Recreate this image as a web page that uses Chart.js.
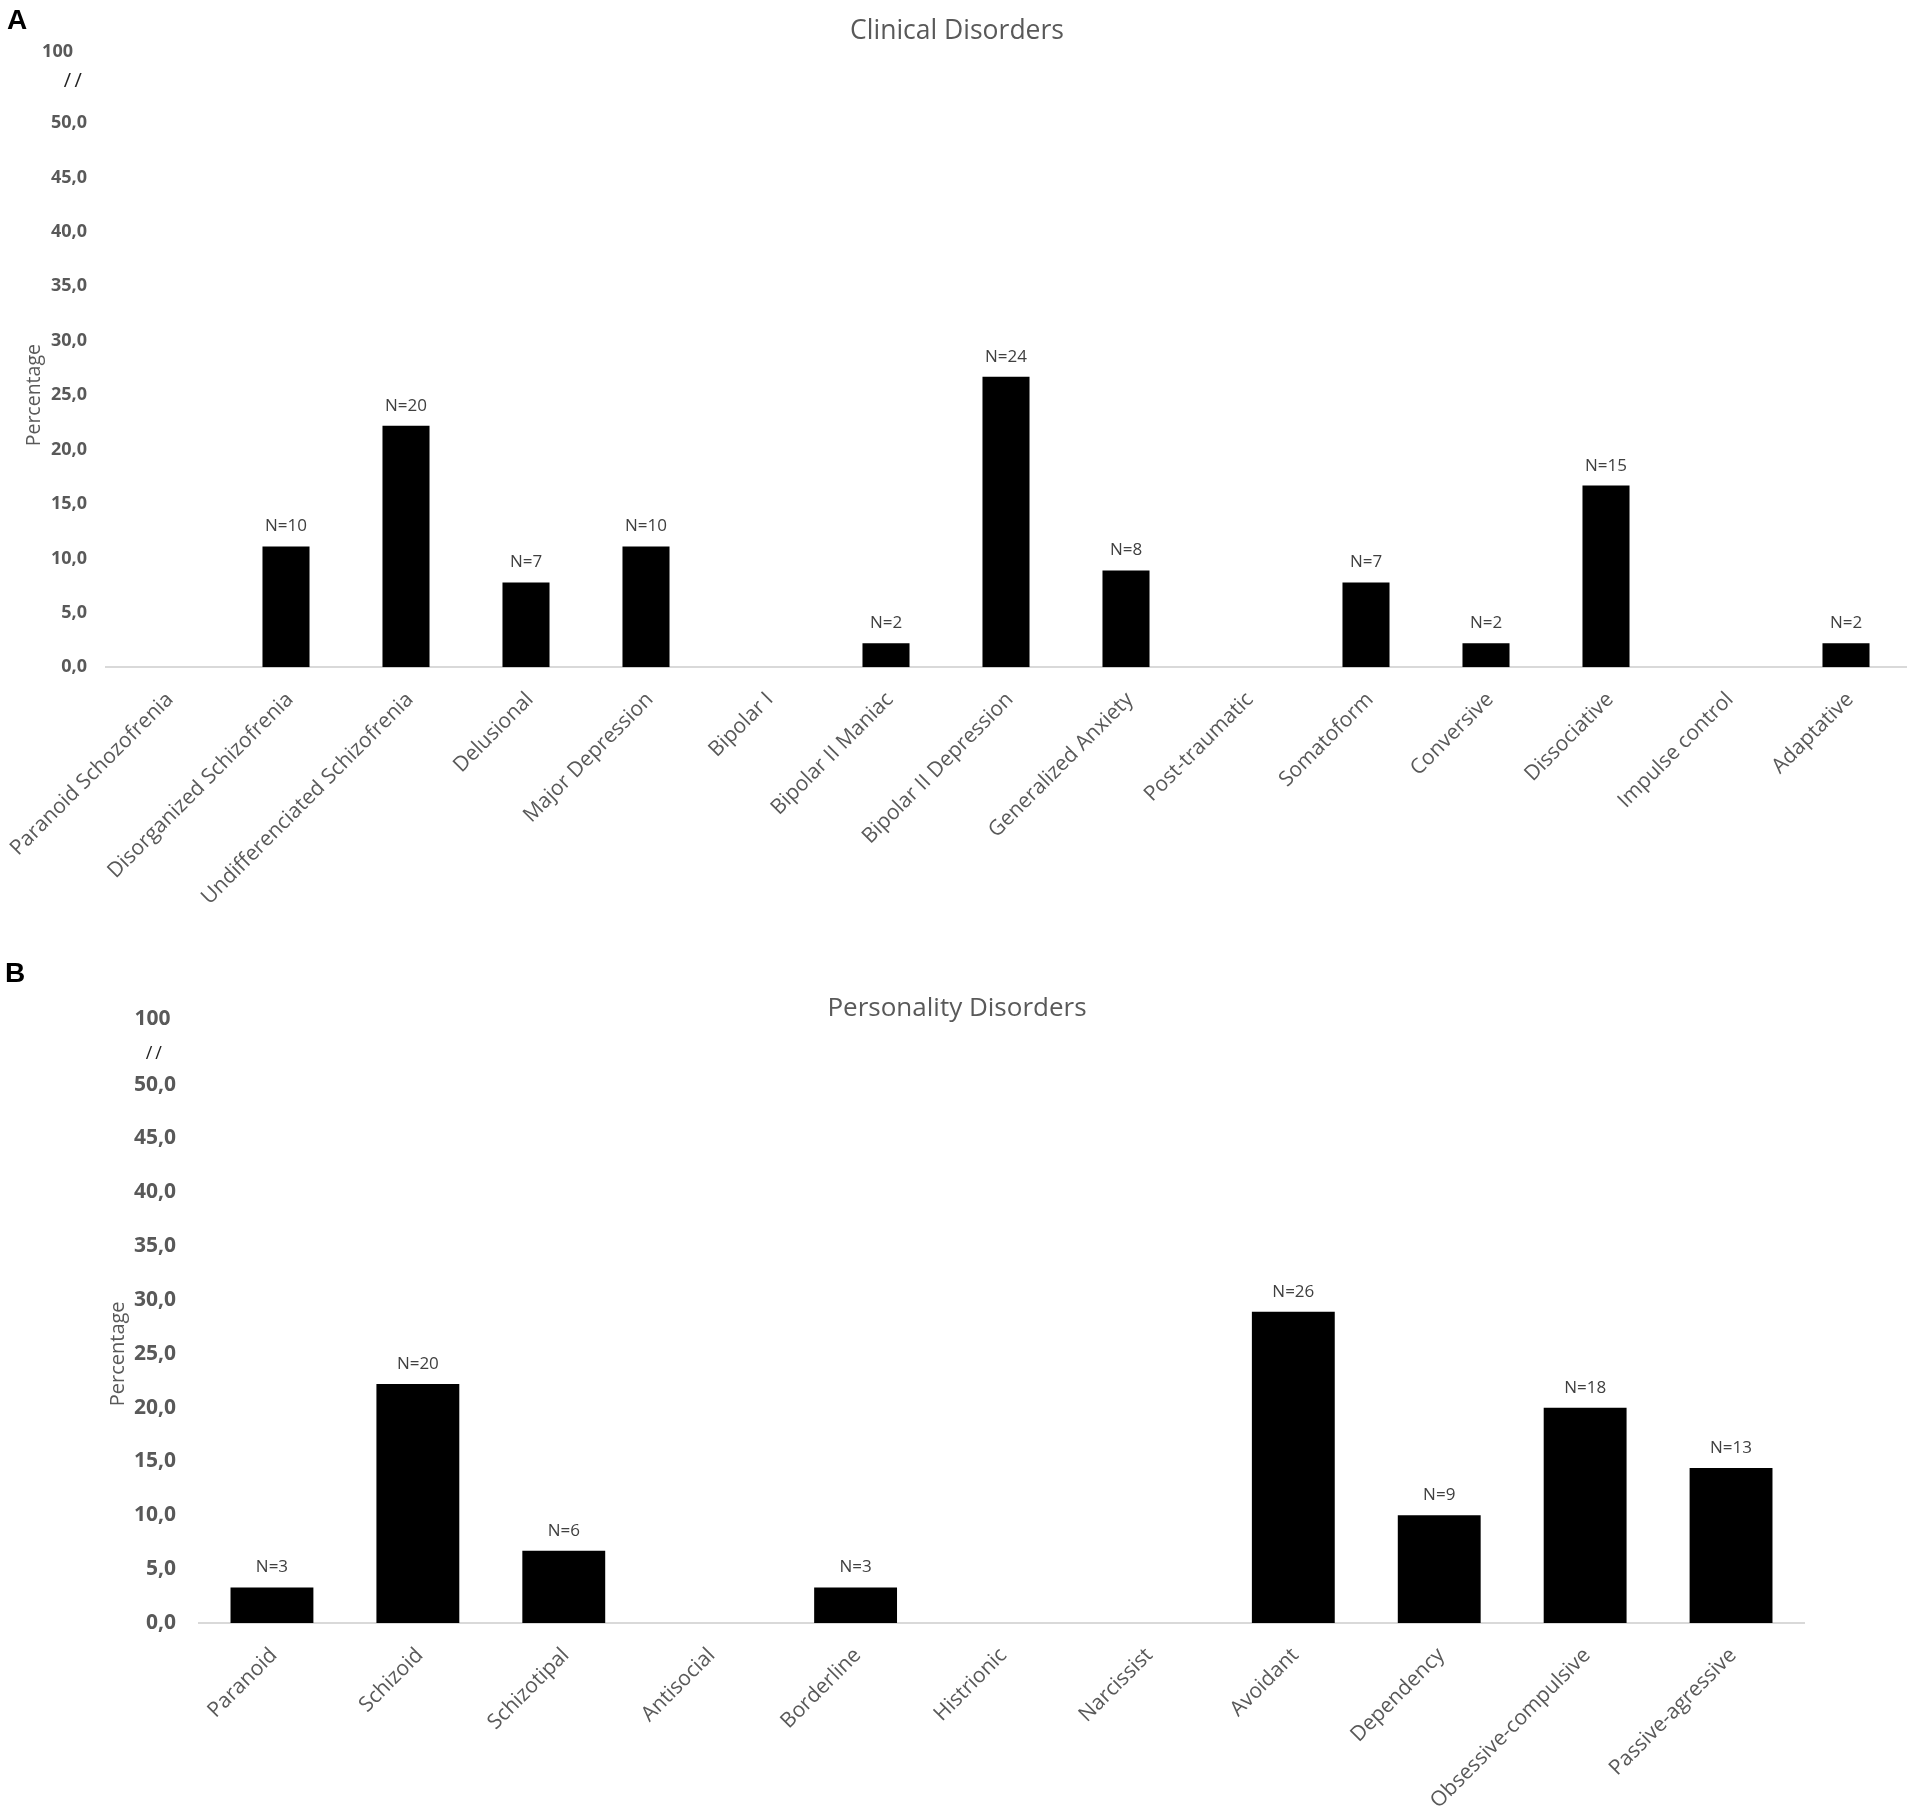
<!DOCTYPE html>
<html>
<head>
<meta charset="utf-8">
<script src="https://cdn.jsdelivr.net/npm/chart.js@4.4.0/dist/chart.umd.min.js"></script>
<style>
  body{margin:0;background:#fff;width:1914px;height:1813px;position:relative;overflow:hidden;}
  canvas{position:absolute;left:0;}
  .panel{position:absolute;font:bold 28px "Liberation Sans",Arial,sans-serif;line-height:1;color:#000;}
</style>
</head>
<body>
<canvas id="chartA" width="1914" height="945" style="top:0"></canvas>
<canvas id="chartB" width="1914" height="868" style="top:945px"></canvas>
<div class="panel" style="left:7px;top:6px">A</div>
<div class="panel" style="left:5px;top:959px">B</div>
<script>
const FONT = '"Open Sans", sans-serif';

// panel A - clinical disorders
const clinicalLabels = ['Paranoid Schozofrenia','Disorganized Schizofrenia','Undifferenciated Schizofrenia','Delusional',
  'Major Depression','Bipolar I','Bipolar II Maniac','Bipolar II Depression','Generalized Anxiety','Post-traumatic',
  'Somatoform','Conversive','Dissociative','Impulse control','Adaptative'];
const clinicalPct = [0, 11.1, 22.2, 7.8, 11.1, 0, 2.2, 26.7, 8.9, 0, 7.8, 2.2, 16.7, 0, 2.2];
const clinicalN   = [null, 10, 20, 7, 10, null, 2, 24, 8, null, 7, 2, 15, null, 2];

// panel B - personality disorders
const personalityLabels = ['Paranoid','Schizoid','Schizotipal','Antisocial','Borderline','Histrionic','Narcissist',
  'Avoidant','Dependency','Obsessive-compulsive','Passive-agressive'];
const personalityPct = [3.3, 22.2, 6.7, 0, 3.3, 0, 0, 28.9, 10.0, 20.0, 14.4];
const personalityN   = [3, 20, 6, null, 3, null, null, 26, 9, 18, 13];

// y ticks below the axis break
const yTicks = [0, 5, 10, 15, 20, 25, 30, 35, 40, 45, 50];

function extras(counts, o){
  return {
    id: 'extras',
    afterDatasetsDraw(chart){
      const ctx = chart.ctx;
      const meta = chart.getDatasetMeta(0);
      ctx.save();
      ctx.fillStyle = '#404040';
      ctx.font = o.nSize + 'px ' + FONT;
      ctx.textAlign = 'center';
      ctx.textBaseline = 'alphabetic';
      meta.data.forEach((bar, i)=>{
        if(counts[i] != null) ctx.fillText('N=' + counts[i], bar.x, bar.y - 15);
      });
      // axis title sits lower than the scale middle in the original
      const y = chart.scales.y.getPixelForValue(25);
      ctx.translate(o.titleX, y);
      ctx.rotate(-Math.PI/2);
      ctx.fillStyle = '#595959';
      ctx.font = o.pctSize + 'px ' + FONT;
      ctx.textBaseline = 'middle';
      ctx.fillText('Percentage', 0, 0);
      ctx.restore();
    }
  };
}

function makeChart(id, labels, values, counts, o){
  const ticks = yTicks.concat([o.breakAt, o.top]);
  return new Chart(document.getElementById(id), {
    type: 'bar',
    data: { labels, datasets: [{ data: values, backgroundColor: '#000', barPercentage: o.barPct, categoryPercentage: 1 }]},
    options: {
      responsive: false, animation: false,
      plugins: {
        legend: { display: false }, tooltip: { enabled: false },
        title: { display: true, text: o.title, color: '#595959',
          font: { family: FONT, size: o.titleSize, weight: 'normal', lineHeight: 1 },
          padding: { top: o.titleTop, bottom: o.titleBottom } }
      },
      scales: {
        x: {
          grid: { display: false, drawTicks: false },
          border: { display: true, color: '#d9d9d9', width: 2 },
          ticks: { color: '#595959', font: { family: FONT, size: o.xSize }, minRotation: 45, maxRotation: 45,
            padding: o.xPad, labelOffset: o.xShift, autoSkip: false },
          afterFit: s=>{ s.height = o.xHeight; s.paddingLeft = 0; s.paddingRight = 0; }
        },
        y: {
          min: 0, max: o.top,
          grid: { display: false, drawTicks: false }, border: { display: false },
          afterBuildTicks: s=>{ s.ticks = ticks.map(v=>({ value: v })); },
          afterFit: s=>{ s.width = o.yWidth; },
          ticks: {
            padding: o.yPad,
            color: c=> (c.tick && c.tick.value === o.breakAt) ? '#222' : '#595959',
            font: c=> (c.tick && c.tick.value === o.breakAt)
              ? { family: FONT, size: o.slashSize, weight: 'normal' }
              : { family: FONT, size: o.ySize, weight: 'bold' },
            callback: v=> v === o.top ? '100' + o.topPad : (v === o.breakAt ? '/\u2009/' + o.slashPad : v.toFixed(1).replace('.', ','))
          }
        },
        // empty right-hand strip, keeps the title centred on the whole canvas
        yRight: {
          position: 'right', grid: { display: false, drawTicks: false }, border: { display: false },
          ticks: { display: false },
          afterFit: s=>{ s.width = o.rightGap; }
        }
      }
    },
    plugins: [extras(counts, o)]
  });
}

makeChart('chartA', clinicalLabels, clinicalPct, clinicalN, {
  title: 'Clinical Disorders', titleSize: 26.5, titleTop: 17.75, titleBottom: 8.05,
  rightGap: 8, xSize: 21, xPad: 20, xShift: 4, xHeight: 277.7,
  yWidth: 106, yPad: 19, ySize: 18, slashSize: 20, breakAt: 53.8, top: 56.5,
  topPad: '   ', slashPad: ' ', barPct: 0.392, nSize: 17, titleX: 34.5, pctSize: 19.5
});

makeChart('chartB', personalityLabels, personalityPct, personalityN, {
  title: 'Personality Disorders', titleSize: 26, titleTop: 50.4, titleBottom: -2.4,
  rightGap: 110, xSize: 21, xPad: 20, xShift: 2, xHeight: 190,
  yWidth: 199, yPad: 23, ySize: 21, slashSize: 18, breakAt: 52.9, top: 56.1,
  topPad: ' ', slashPad: '   ', barPct: 0.568, nSize: 17, titleX: 118, pctSize: 20
});
</script>
</body>
</html>
